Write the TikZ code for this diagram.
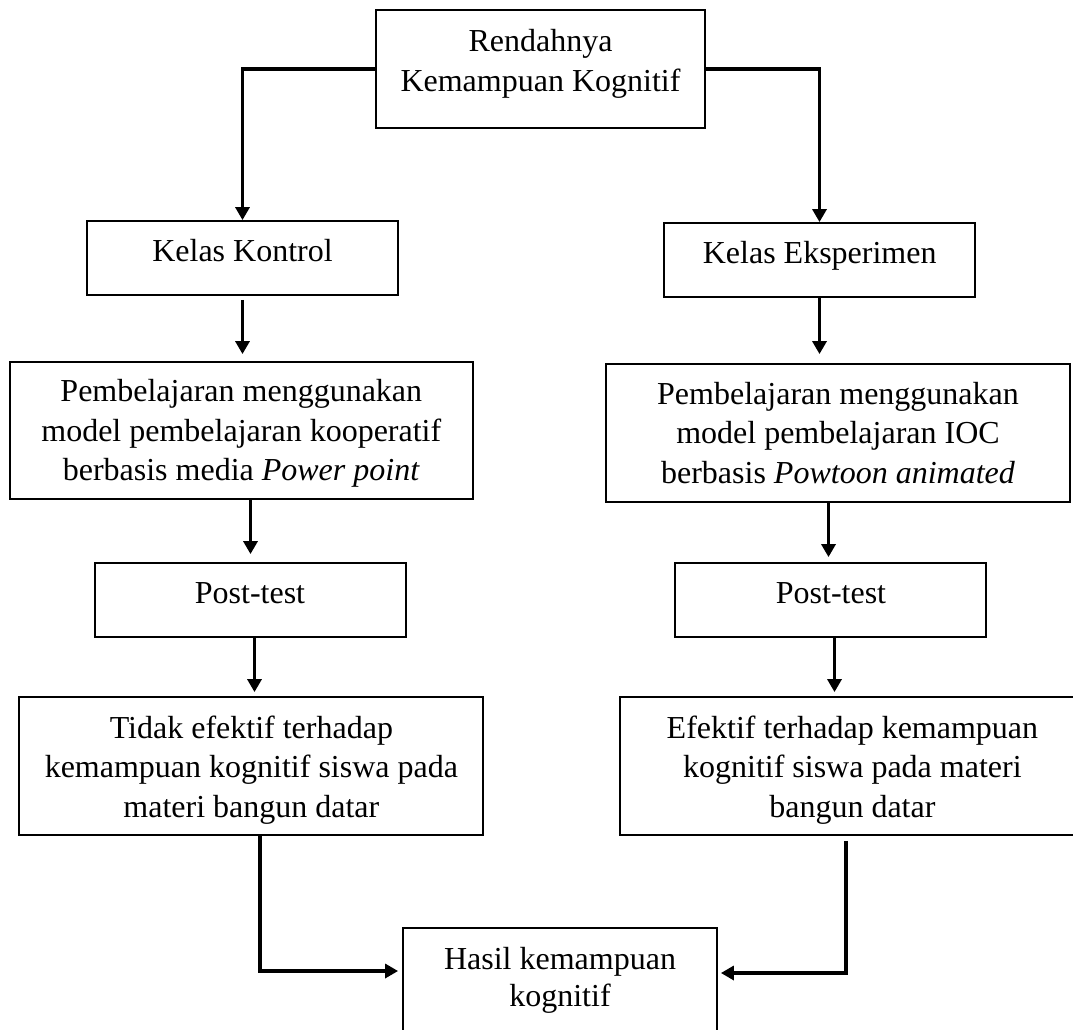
\documentclass[tikz,border=0pt]{standalone}
\usepackage{fontspec}
\setmainfont{Liberation Serif}
\usetikzlibrary{arrows.meta}
\newcommand\mlines[1]{\begin{tabular}[t]{@{}c@{}}#1\end{tabular}}
\begin{document}
\begin{tikzpicture}[x=1pt,y=-1pt,
  box/.style={draw, line width=1.8pt, inner sep=0pt, rectangle},
  txt/.style={inner sep=0pt, anchor=base, font=\fontsize{32}{39.5}\selectfont},
  conn/.style={line width=3.2pt, -{Triangle[width=14pt,length=13pt]}}]
\useasboundingbox (0,0) rectangle (1073,1030);

% boxes
\node[box, minimum width=329pt, minimum height=118pt] (top) at (540.5,69) {};
\node[box, minimum width=311pt, minimum height=74pt] (kk) at (242.5,258) {};
\node[box, minimum width=311pt, minimum height=74pt] (ke) at (819.5,260) {};
\node[box, minimum width=463pt, minimum height=137pt] (pl) at (241.5,430.5) {};
\node[box, minimum width=464pt, minimum height=138pt] (pr) at (838,433) {};
\node[box, minimum width=311pt, minimum height=74pt] (ptl) at (250.5,600) {};
\node[box, minimum width=311pt, minimum height=74pt] (ptr) at (830.5,600) {};
\node[box, minimum width=464pt, minimum height=138pt] (tl) at (251,766) {};
\node[box, minimum width=464pt, minimum height=138pt] (er) at (852,766) {};
\node[box, minimum width=314pt, minimum height=132pt] (hasil) at (560,994) {};

% texts
\node[txt] (ttop) at (540.5,51.7) {\mlines{Rendahnya\\Kemampuan Kognitif}};
\node[txt] (tkk) at (242.5,261) {Kelas Kontrol};
\node[txt] (tke) at (819.7,263.3) {Kelas Eksperimen};
\node[txt] (tpl) at (241.3,401.7) {\mlines{Pembelajaran menggunakan\\model pembelajaran kooperatif\\berbasis media \textit{Power point}}};
\node[txt] (tpr) at (838,404) {\mlines{Pembelajaran menggunakan\\model pembelajaran IOC\\berbasis \textit{Powtoon animated}}};
\node[txt] (tptl) at (250,603.3) {Post-test};
\node[txt] (tptr) at (831,603.3) {Post-test};
\node[txt] (ttl) at (251.4,738.3) {\mlines{Tidak efektif terhadap\\kemampuan kognitif siswa pada\\materi bangun datar}};
\node[txt] (ter) at (852.4,738) {\mlines{Efektif terhadap kemampuan\\kognitif siswa pada materi\\bangun datar}};
\node[txt, font=\fontsize{32}{37.5}\selectfont] (th) at (560,969.3) {\mlines{Hasil kemampuan\\kognitif}};

% connectors
\draw[conn] (top.west) -| (kk.north);
\draw[conn] (top.east) -| (ke.north);
\draw[conn, shorten <=4pt, shorten >=7pt] (kk.south) -- (kk.south |- pl.north);
\draw[conn, shorten >=8pt] (ptl.north |- pl.south) -- (ptl.north);
\draw[conn, shorten >=4pt] ([xshift=4pt]ptl.south) -- ([xshift=4pt]ptl.south |- tl.north);
\draw[conn, shorten >=9pt] (ke.south) -- (ke.south |- pr.north);
\draw[conn, shorten >=5pt] ([xshift=-2pt]ptr.north |- pr.south) -- ([xshift=-2pt]ptr.north);
\draw[conn, shorten >=4pt] ([xshift=4pt]ptr.south) -- ([xshift=4pt]ptr.south |- er.north);
\coordinate (bl) at (260,971);
\coordinate (br) at (846,973);
\draw[conn, shorten >=4pt] (tl.south -| bl) |- (hasil.west |- bl);
\draw[conn, shorten <=5pt, shorten >=3pt] (er.south -| br) |- (hasil.east |- br);
\end{tikzpicture}
\end{document}
